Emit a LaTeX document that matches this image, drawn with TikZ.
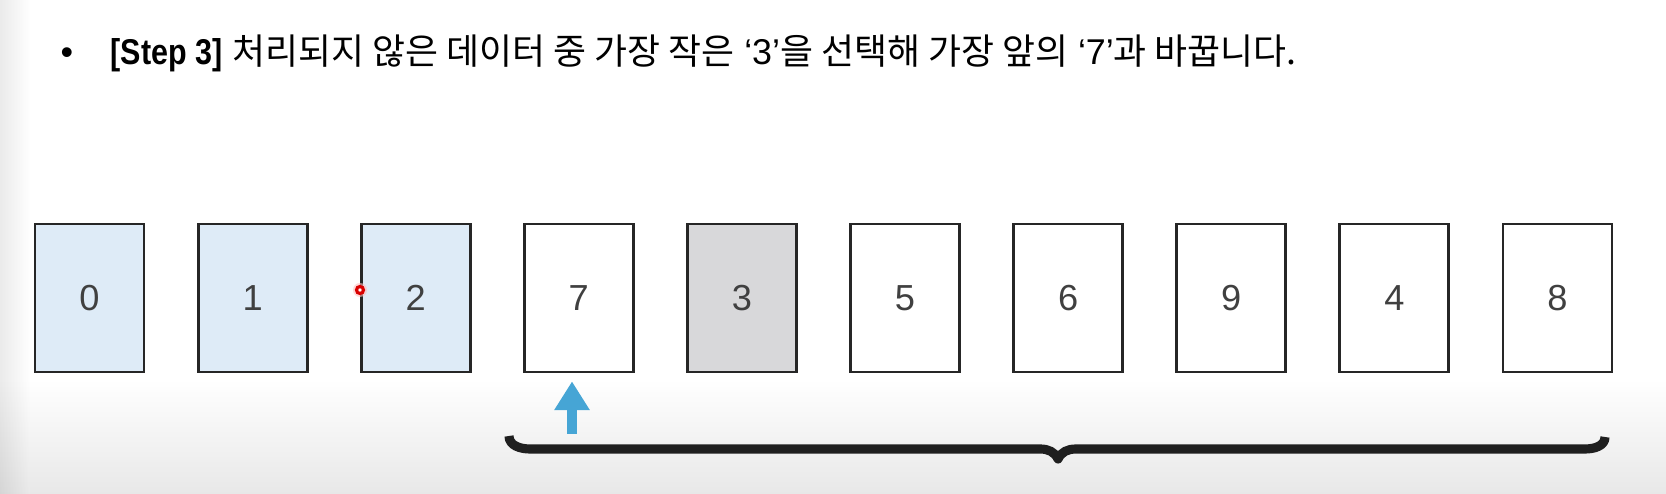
\documentclass[tikz,border=0pt]{standalone}
\usepackage{fontspec}
\setmainfont{Liberation Sans}[BoldFeatures={FakeStretch=0.85}]
\newfontfamily\krfont{Noto Sans CJK KR}
\usetikzlibrary{arrows.meta}
\definecolor{cardblue}{RGB}{222,235,247}
\definecolor{cardgray}{RGB}{216,216,218}
\definecolor{markblue}{RGB}{70,165,213}

\begin{document}
\begin{tikzpicture}[
  card/.style={draw=black!85, line width=0.8pt, minimum width=1.09cm, minimum height=1.48cm, inner sep=0pt, text=black!75, font=\fontsize{10.3}{12}\selectfont},
  done/.style={card, fill=cardblue},
  pick/.style={card, fill=cardgray},
  rest/.style={card, fill=white},
  title/.style={anchor=base west, inner sep=0pt, font=\fontsize{10.2}{12}\selectfont}
]
\useasboundingbox (0,0) rectangle (16.66,4.94);
% background
\fill[white] (0,0) rectangle (16.66,4.94);
\shade[top color=white, bottom color=black!9] (0,0) rectangle (16.66,1.15);
\shade[left color=black, right color=white, opacity=0.08] (0,0) rectangle (0.3,4.94);
% title line
\node[anchor=base, inner sep=0pt, font=\fontsize{10.2}{12}\selectfont] (t0) at (0.67,4.29) {\textbullet};
\node[title] (t1) at (1.10,4.29) {\textbf{[Step 3]} {\krfont 처리되지 않은 데이터 중 가장 작은} ‘3’{\krfont 을 선택해 가장 앞의} ‘7’{\krfont 과 바꿉니다.}};
% cards
\node[done] (v1) at (0.895,1.96) {0};
\node[done] (v2) at (2.526,1.96) {1};
\node[done] (v3) at (4.157,1.96) {2};
\node[rest] (v4) at (5.788,1.96) {7};
\node[pick] (v5) at (7.419,1.96) {3};
\node[rest] (v6) at (9.050,1.96) {5};
\node[rest] (v7) at (10.681,1.96) {6};
\node[rest] (v8) at (12.312,1.96) {9};
\node[rest] (v9) at (13.943,1.96) {4};
\node[rest] (v10) at (15.574,1.96) {8};
% pointer
\coordinate (a1) at (5.72,0.60);
\draw[markblue, line width=2.6pt, -{Triangle[length=8.2pt,width=9.6pt]}] (a1) -- ([xshift=-0.068cm,yshift=-0.08cm]v4.south);
% brace under the unsorted part
\coordinate (b1) at (5.09,0.58);
\coordinate (b2) at (10.58,0.35);
\coordinate (b3) at (16.05,0.57);
\draw[black!88, line width=2.6pt, line join=round] (b1) to[out=-90,in=180] (5.30,0.45) -- (10.40,0.45) to[out=0,in=115] (b2) to[out=65,in=180] (10.76,0.45) -- (15.85,0.45) to[out=0,in=-90] (b3);
% cursor mark
\fill[red!25, opacity=0.6] (3.60,2.04) circle (0.07);
\draw[red!85!black, line width=0.9pt, fill=white] (3.60,2.04) circle (0.035);
\end{tikzpicture}
\end{document}
